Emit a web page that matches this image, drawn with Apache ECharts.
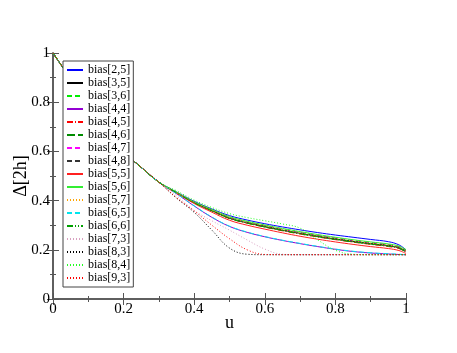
<!DOCTYPE html>
<html>
<head>
<meta charset="utf-8">
<script src="https://cdn.jsdelivr.net/npm/echarts@6/dist/echarts.min.js"></script>
<style>
html, body { margin: 0; padding: 0; background: #fff; }
#chart { width: 457px; height: 353px; }
</style>
</head>
<body>
<div id="chart"></div>
<script>
// u grid
const u = [0, 0.05, 0.1, 0.15, 0.2, 0.25, 0.3, 0.35, 0.4, 0.45, 0.5, 0.55, 0.6, 0.65, 0.7, 0.75, 0.8, 0.85, 0.9, 0.95, 0.98, 1]
// common start (u = 0 .. 0.3)
const head = [1, 0.895, 0.795, 0.695, 0.6, 0.535, 0.475]

const bias25 = head.concat([0.435, 0.397, 0.366, 0.339, 0.321, 0.306, 0.293, 0.281, 0.27, 0.26, 0.251, 0.242, 0.233, 0.22, 0.2])
const bias35 = head.concat([0.432, 0.392, 0.36, 0.329, 0.31, 0.295, 0.28, 0.267, 0.255, 0.244, 0.234, 0.225, 0.217, 0.208, 0.195])
const bias36 = head.concat([0.433, 0.393, 0.362, 0.332, 0.313, 0.298, 0.284, 0.271, 0.259, 0.248, 0.238, 0.229, 0.221, 0.213, 0.2])
const bias44 = head.concat([0.428, 0.378, 0.332, 0.295, 0.271, 0.253, 0.238, 0.225, 0.213, 0.202, 0.193, 0.187, 0.183, 0.181, 0.18])
const bias45 = head.concat([0.432, 0.391, 0.358, 0.327, 0.308, 0.292, 0.277, 0.264, 0.252, 0.241, 0.231, 0.222, 0.213, 0.205, 0.19])
const bias46 = head.concat([0.432, 0.392, 0.359, 0.328, 0.309, 0.293, 0.279, 0.266, 0.254, 0.243, 0.233, 0.224, 0.216, 0.207, 0.19])
const bias47 = head.concat([0.433, 0.393, 0.361, 0.331, 0.312, 0.297, 0.283, 0.27, 0.258, 0.247, 0.237, 0.228, 0.22, 0.211, 0.195])
const bias48 = head.concat([0.432, 0.392, 0.36, 0.33, 0.311, 0.296, 0.281, 0.268, 0.256, 0.245, 0.235, 0.226, 0.218, 0.21, 0.195])
const bias55 = head.concat([0.43, 0.388, 0.353, 0.32, 0.3, 0.284, 0.269, 0.255, 0.243, 0.232, 0.222, 0.213, 0.205, 0.197, 0.185])
const bias56 = head.concat([0.434, 0.395, 0.364, 0.335, 0.316, 0.301, 0.287, 0.274, 0.262, 0.251, 0.241, 0.232, 0.224, 0.215, 0.2])
const bias57 = head.concat([0.433, 0.393, 0.361, 0.331, 0.312, 0.297, 0.282, 0.269, 0.257, 0.246, 0.236, 0.227, 0.219, 0.21, 0.195])
const bias65 = head.concat([0.428, 0.379, 0.333, 0.296, 0.272, 0.254, 0.239, 0.226, 0.214, 0.203, 0.194, 0.188, 0.184, 0.182, 0.18])
const bias66 = head.concat([0.432, 0.391, 0.358, 0.328, 0.309, 0.293, 0.279, 0.265, 0.253, 0.242, 0.232, 0.223, 0.215, 0.207, 0.19])
const bias73 = head.concat([0.42, 0.36, 0.318, 0.28, 0.24, 0.203, 0.182, 0.18, 0.18, 0.18, 0.18, 0.18, 0.18, 0.18, 0.18])
const bias83 = head.concat([0.41, 0.352, 0.28, 0.207, 0.182, 0.18, 0.18, 0.18, 0.18, 0.18, 0.18, 0.18, 0.18, 0.18, 0.18])
const bias84 = head.concat([0.44, 0.402, 0.372, 0.347, 0.331, 0.318, 0.305, 0.288, 0.24, 0.198, 0.182, 0.18, 0.18, 0.18, 0.18])
const bias93 = head.concat([0.412, 0.358, 0.3, 0.245, 0.2, 0.181, 0.18, 0.18, 0.18, 0.18, 0.18, 0.18, 0.18, 0.18, 0.18])

const xTicks = [0, 0.2, 0.4, 0.6, 0.8, 1]
const yTicks = [0, 0.2, 0.4, 0.6, 0.8, 1]

// 线型
const dot = [1, 2]
const dash = [5, 3]
const dashDot = [6, 2, 1, 2]
const longDash = [8, 3]
const dashDotDot = [6, 2, 1, 2, 1, 2]

const curves = [
  { name: 'bias[2,5]', data: bias25, color: '#0000ff', dash: 'solid' },
  { name: 'bias[3,5]', data: bias35, color: '#000000', dash: 'solid' },
  { name: 'bias[3,6]', data: bias36, color: '#00ee00', dash: dash },
  { name: 'bias[4,4]', data: bias44, color: '#9400d3', dash: 'solid' },
  { name: 'bias[4,5]', data: bias45, color: '#ff0000', dash: dashDot },
  { name: 'bias[4,6]', data: bias46, color: '#008b00', dash: longDash },
  { name: 'bias[4,7]', data: bias47, color: '#ff00ff', dash: dash },
  { name: 'bias[4,8]', data: bias48, color: '#333333', dash: dash },
  { name: 'bias[5,5]', data: bias55, color: '#ff2020', dash: 'solid' },
  { name: 'bias[5,6]', data: bias56, color: '#33ee33', dash: 'solid' },
  { name: 'bias[5,7]', data: bias57, color: '#ffa500', dash: dot },
  { name: 'bias[6,5]', data: bias65, color: '#00e5ee', dash: dash },
  { name: 'bias[6,6]', data: bias66, color: '#00a000', dash: dashDotDot },
  { name: 'bias[7,3]', data: bias73, color: '#d8a0c0', dash: dot },
  { name: 'bias[8,3]', data: bias83, color: '#000000', dash: dot },
  { name: 'bias[8,4]', data: bias84, color: '#22ff22', dash: dot },
  { name: 'bias[9,3]', data: bias93, color: '#ff0000', dash: dot }
]

const font = "'Liberation Serif', 'DejaVu Serif', serif"
const frame = { show: true, lineStyle: { color: '#555', width: 1.5 } }

function makeX(show, pos) {
  return {
    type: 'value', min: 0, max: 1, interval: 0.2, position: pos,
    axisLine: frame,
    axisTick: { show: true, inside: true, length: 6, lineStyle: { color: '#555' } },
    minorTick: { show: true, splitNumber: 2, length: 3, lineStyle: { color: '#555' } },
    axisLabel: { show: show, fontFamily: font, fontSize: 15, color: '#000', margin: 3,
      formatter: v => xTicks.includes(+v.toFixed(1)) ? String(+v.toFixed(1)) : '' },
    splitLine: { show: false },
    name: show ? 'u' : '', nameLocation: 'middle', nameGap: 15, nameMoveOverlap: false,
    nameTextStyle: { fontFamily: font, fontSize: 18, color: '#000' }
  }
}
function makeY(show, pos) {
  return {
    type: 'value', min: 0, max: 1, interval: 0.2, position: pos,
    axisLine: frame,
    axisTick: { show: true, inside: true, length: 6, lineStyle: { color: '#555' } },
    minorTick: { show: true, splitNumber: 2, length: 3, lineStyle: { color: '#555' } },
    axisLabel: { show: show, fontFamily: font, fontSize: 15, color: '#000', margin: 3,
      formatter: v => yTicks.includes(+v.toFixed(1)) ? String(+v.toFixed(1)) : '' },
    splitLine: { show: false },
    name: show ? 'Δ[2h]' : '', nameLocation: 'middle', nameGap: 23, nameMoveOverlap: false,
    nameTextStyle: { fontFamily: font, fontSize: 18, color: '#000' }
  }
}

const chart = echarts.init(document.getElementById('chart'))
chart.setOption({
  animation: false,
  backgroundColor: '#fff',
  grid: { left: 53, right: 51, top: 53, bottom: 54, containLabel: false, outerBoundsMode: 'none' },
  legend: {
    orient: 'vertical', left: 63, top: 61,
    backgroundColor: '#fff', borderColor: '#444', borderWidth: 1,
    padding: [3, 3, 3, 3],
    itemWidth: 16, itemHeight: 10, itemGap: 1,
    itemStyle: { opacity: 0 },
    textStyle: { fontFamily: font, fontSize: 12, lineHeight: 12, color: '#000' },
    data: curves.map(c => c.name)
  },
  xAxis: [makeX(true, 'bottom'), makeX(false, 'top')],
  yAxis: [makeY(true, 'left'), makeY(false, 'right')],
  series: curves.map(c => ({
    name: c.name,
    type: 'line',
    symbol: 'none',
    smooth: 0.4,
    color: c.color,
    lineStyle: { color: c.color, width: 1, type: c.dash },
    data: u.map((x, i) => [x, c.data[i]])
  }))
})
</script>
</body>
</html>
